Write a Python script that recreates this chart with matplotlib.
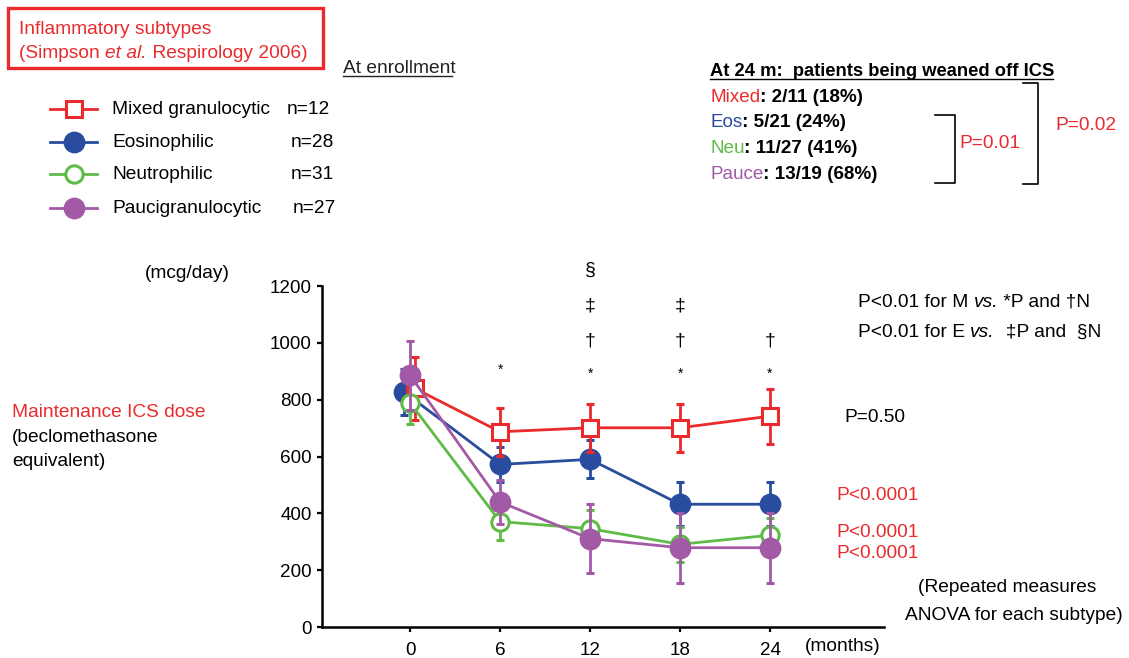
import numpy as np
import matplotlib
matplotlib.use("Agg")
import matplotlib.pyplot as plt
from matplotlib.lines import Line2D
from matplotlib.patches import Rectangle

plt.rcParams['font.family'] = ['Liberation Sans', 'DejaVu Sans']

#################
### data ###
#################
months = [0, 6, 12, 18, 24]

mixed_mean = [840, 687, 701, 701, 742]
mixed_err = [110, 85, 85, 85, 97]
eos_mean = [827, 572, 590, 432, 432]
eos_err = [80, 60, 67, 77, 77]
neu_mean = [789, 371, 346, 291, 323]
neu_err = [75, 65, 65, 62, 62]
pauci_mean = [886, 440, 311, 279, 279]
pauci_err = [122, 78, 122, 123, 123]

labels = ['Mixed granulocytic', 'Eosinophilic', 'Neutrophilic', 'Paucigranulocytic']
n_labels = ['n=12', 'n=28', 'n=31', 'n=27']
short = ['Mixed', 'Eos', 'Neu', 'Pauce']
weaned = [': 2/11 (18%)', ': 5/21 (24%)', ': 11/27 (41%)', ': 13/19 (68%)']

# significance marks above the time points
sig_months = [6, 12, 18, 24, 12, 18, 24, 12, 18, 12]
sig_vals = [905, 890, 890, 890, 1005, 1005, 1005, 1130, 1130, 1255]
sig_marks = ['*', '*', '*', '*', '\u2020', '\u2020', '\u2020', '\u2021', '\u2021', '\u00a7']

red = '#ea2a2c'
blue = '#2a4c9e'
green = '#5fbb47'
purple = '#a35aa6'
fs = 13.8
fs_tick = 13.6

fig = plt.figure(figsize=(11.29, 6.58), dpi=100)

# main axes, placed in pixels
W, H = 1129.0, 658.0
ax = fig.add_axes([322 / W, 1 - 627 / H, (884 - 322) / W, (627 - 286) / H])
ax.set_xlim(-5.87, 31.6)
ax.set_ylim(0, 1200)

series = [
    (eos_mean, eos_err, blue, 'o', blue, 13.5, -0.4, 2),
    (mixed_mean, mixed_err, red, 's', 'white', 11.5, 0.3, 3),
    (neu_mean, neu_err, green, 'o', 'white', 12.5, 0.0, 4),
    (pauci_mean, pauci_err, purple, 'o', purple, 13.5, 0.0, 5),
]
for mean, err, col, mk, fc, ms, dx0, z in series:
    xs = np.array(months, dtype=float)
    xs[0] += dx0
    ax.errorbar(xs, mean, yerr=err, color=col, marker=mk, markersize=ms,
                markerfacecolor=fc, markeredgecolor=col, markeredgewidth=2.2,
                linewidth=2.0, elinewidth=2.0, capsize=3, capthick=2.0,
                zorder=z, clip_on=False)

for mx, v, s in zip(sig_months, sig_vals, sig_marks):
    ax.text(mx, v, s, ha='center', va='center', fontsize=14 if s != '*' else 10,
            clip_on=False)

ax.set_xticks(months)
ax.set_yticks(range(0, 1201, 200))
ax.spines['top'].set_visible(False)
ax.spines['right'].set_visible(False)
ax.spines['left'].set_linewidth(1.8)
ax.spines['bottom'].set_linewidth(1.8)
ax.tick_params(axis='both', direction='out', length=3.5, width=1.6, labelsize=fs_tick)
ax.tick_params(axis='x', pad=7)
ax.tick_params(axis='y', pad=4)

# overlay in pixel coordinates for all the annotations
ov = fig.add_axes([0, 0, 1, 1])
ov.set_xlim(0, W)
ov.set_ylim(H, 0)
ov.axis('off')


def chain(x, y, pieces, size=fs):
    # pieces: list of (text, color, style, weight)
    t0, c0, st0, w0 = pieces[0]
    prev = ov.text(x, y, t0, color=c0, style=st0, weight=w0, fontsize=size,
                   ha='left', va='baseline')
    for t, c, st, w in pieces[1:]:
        prev = ov.annotate(t, xy=(1, 0), xycoords=prev, color=c, style=st,
                           weight=w, fontsize=size, ha='left', va='bottom')
    return prev


# title box
ov.add_patch(Rectangle((8, 8), 315, 60, fill=False, edgecolor=red, linewidth=2.4))
ov.text(19, 34, 'Inflammatory subtypes', color=red, fontsize=fs, va='baseline')
chain(19, 58, [('(Simpson ', red, 'normal', 'normal'),
               ('et al.', red, 'italic', 'normal'),
               (' Respirology 2006)', red, 'normal', 'normal')])

ov.text(343, 73, 'At enrollment', fontsize=fs, va='baseline', color='#222222')
ov.plot([343, 452], [76, 76], color='#222222', linewidth=1)

# legend
leg_y = [109, 142, 174, 208]
leg_style = [(red, 's', 'white', 12), (blue, 'o', blue, 13.5),
             (green, 'o', 'white', 12.5), (purple, 'o', purple, 13.5)]
n_x = [287, 291, 291, 293]
for yy, lab, nl, nx, (col, mk, fc, ms) in zip(leg_y, labels, n_labels, n_x, leg_style):
    ov.add_line(Line2D([50, 97], [yy, yy], color=col, linewidth=2.0))
    ov.add_line(Line2D([73.5], [yy], marker=mk, markersize=ms, markerfacecolor=fc,
                       markeredgecolor=col, markeredgewidth=2.2, color=col))
    ov.text(112, yy + 5, lab, fontsize=fs, va='baseline')
    ov.text(nx, yy + 5, nl, fontsize=fs, va='baseline')

# weaned off ICS block
ov.text(710, 76, 'At 24 m:  patients being weaned off ICS', fontsize=13.2,
        weight='bold', va='baseline')
ov.plot([710, 1053], [79, 79], color='black', linewidth=1)
cols = [red, blue, green, purple]
for yy, sh, wv, col in zip([102, 127, 153, 179], short, weaned, cols):
    chain(710, yy, [(sh, col, 'normal', 'normal'), (wv, 'black', 'normal', 'bold')],
          size=13.6)

ov.plot([935, 955, 955, 935], [115, 115, 183, 183], color='black', linewidth=1.2)
ov.plot([1023, 1038, 1038, 1023], [83, 83, 184, 184], color='black', linewidth=1.2)
ov.text(959, 148, 'P=0.01', color=red, fontsize=fs, va='baseline')
ov.text(1055, 130, 'P=0.02', color=red, fontsize=fs, va='baseline')

# axis side labels
ov.text(145, 278, '(mcg/day)', fontsize=fs, va='baseline')
ov.text(12, 417, 'Maintenance ICS dose', color=red, fontsize=fs, va='baseline')
ov.text(12, 442, '(beclomethasone', fontsize=fs, va='baseline')
ov.text(12, 466, 'equivalent)', fontsize=fs, va='baseline')
ov.text(805, 651, '(months)', fontsize=fs, va='baseline')

# right-hand notes
chain(858, 307, [('P<0.01 for M ', 'black', 'normal', 'normal'),
                 ('vs.', 'black', 'italic', 'normal'),
                 (' *P and \u2020N', 'black', 'normal', 'normal')])
chain(858, 337, [('P<0.01 for E ', 'black', 'normal', 'normal'),
                 ('vs.', 'black', 'italic', 'normal'),
                 ('  \u2021P and  \u00a7N', 'black', 'normal', 'normal')])
ov.text(844, 422, 'P=0.50', fontsize=fs, va='baseline')
for yy in [500, 537, 558]:
    ov.text(836, yy, 'P<0.0001', color=red, fontsize=fs, va='baseline')
ov.text(918, 592, '(Repeated measures', fontsize=fs, va='baseline')
ov.text(905, 620, 'ANOVA for each subtype)', fontsize=fs, va='baseline')

fig.savefig('out.png', dpi=100)
